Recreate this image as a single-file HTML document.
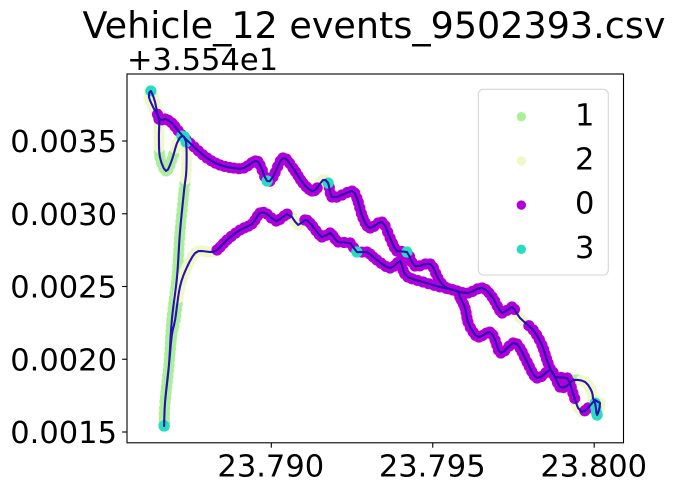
<!DOCTYPE html>
<html>
<head>
<meta charset="utf-8">
<style>
html,body{margin:0;padding:0;background:#fff;}
svg{display:block;font-family:"DejaVu Sans","Liberation Sans",sans-serif;}
text{fill:#000;}
</style>
</head>
<body>
<svg id="chart" width="677" height="492" viewBox="0 0 677 492" xmlns="http://www.w3.org/2000/svg">
<rect x="0" y="0" width="677" height="492" fill="#fff"/>
<text x="374" y="38" font-size="36.5" text-anchor="middle">Vehicle_12 events_9502393.csv</text>
<text x="127" y="70" font-size="30.5">+3.554e1</text>
<g id="scatter"></g>
<path id="track" fill="none" stroke="#2a10b0" stroke-width="2.1" stroke-linejoin="round" stroke-linecap="round"/>
<rect x="127" y="74" width="496.5" height="368.8" fill="none" stroke="#000" stroke-width="1.1"/>
<g id="axes"></g>
<g>
<rect x="478.3" y="89.3" width="130" height="185.7" rx="5" ry="5" fill="#fff" fill-opacity="0.8" stroke="#d6d6d6" stroke-width="1.1"/>
<g id="legend-items"></g>
</g>
</svg>
<script>
const categories = ["1", "2", "0", "3"];
const categoryColors = ["#aaf09b", "#eef8c8", "#b000d8", "#28dcc0"];
const xTicks = [23.79, 23.795, 23.8];
const xTickLabels = ["23.790", "23.795", "23.800"];
const yTicks = [0.0015, 0.002, 0.0025, 0.003, 0.0035];
const yTickLabels = ["0.0015", "0.0020", "0.0025", "0.0030", "0.0035"];

const lonValues = [
23.78668,23.78671,23.78683,23.78692,23.78708,23.78717,23.78730,23.78737,23.78736,23.78723,
23.78708,23.78692,23.78674,23.78655,23.78652,23.78652,23.78637,23.78621,23.78627,23.78640,
23.78652,23.78671,23.78692,23.78723,23.78761,23.78801,23.78841,23.78884,23.78915,23.78950,
23.78965,23.78987,23.79005,23.79036,23.79067,23.79098,23.79126,23.79142,23.79160,23.79176,
23.79188,23.79219,23.79250,23.79265,23.79284,23.79306,23.79343,23.79368,23.79389,23.79420,
23.79445,23.79492,23.79516,23.79538,23.79575,23.79609,23.79653,23.79684,23.79715,23.79745,
23.79770,23.79811,23.79838,23.79857,23.79879,23.79916,23.79934,23.79950,23.79962,23.79981,
23.80003,23.80018,23.80009,23.80003,23.79996,23.79993,23.79972,23.79934,23.79916,23.79894,
23.79879,23.79863,23.79823,23.79792,23.79770,23.79749,23.79711,23.79693,23.79677,23.79643,
23.79625,23.79609,23.79600,23.79584,23.79575,23.79522,23.79470,23.79423,23.79408,23.79399,
23.79368,23.79327,23.79296,23.79265,23.79244,23.79207,23.79182,23.79157,23.79120,23.79104,
23.79083,23.79064,23.79049,23.79015,23.78987,23.78965,23.78940,23.78903,23.78863,23.78832,
23.78810,23.78785,23.78764,23.78739,23.78717,23.78702,23.78692,23.78683,23.78671,23.78668
];
const latOffsets = [
0.001541,0.001706,0.001960,0.002270,0.002565,0.002868,0.003163,0.003301,0.003493,0.003534,
0.003486,0.003369,0.003294,0.003390,0.003528,0.003658,0.003720,0.003802,0.003844,0.003768,
0.003651,0.003651,0.003624,0.003541,0.003459,0.003383,0.003335,0.003314,0.003314,0.003363,
0.003335,0.003225,0.003253,0.003383,0.003314,0.003211,0.003156,0.003177,0.003232,0.003211,
0.003115,0.003129,0.003156,0.003108,0.002971,0.002902,0.002943,0.002833,0.002744,0.002737,
0.002641,0.002655,0.002558,0.002497,0.002469,0.002455,0.002490,0.002428,0.002318,0.002359,
0.002284,0.002201,0.002098,0.001974,0.001878,0.001871,0.001768,0.001665,0.001637,0.001665,
0.001720,0.001699,0.001617,0.001699,0.001734,0.001775,0.001844,0.001857,0.001816,0.001809,
0.001878,0.001926,0.001871,0.001981,0.002077,0.002112,0.002043,0.002132,0.002187,0.002153,
0.002187,0.002256,0.002352,0.002428,0.002469,0.002497,0.002531,0.002565,0.002613,0.002675,
0.002627,0.002682,0.002737,0.002737,0.002799,0.002806,0.002868,0.002840,0.002936,0.002957,
0.002923,0.002978,0.002998,0.002950,0.002998,0.003005,0.002930,0.002888,0.002820,0.002751,
0.002737,0.002744,0.002730,0.002634,0.002497,0.002270,0.002167,0.001960,0.001706,0.001541
];
const eventClasses = [
"3","1","1","1","1","1","1","2","3","3",
"2","1","1","1","2","2","2","2","3","2",
"0","0","0","0","0","0","0","0","0","0",
"0","3","0","0","0","0","0","0","2","3",
"0","0","0","0","0","0","0","0","0","3",
"0","0","0","0","0","0","0","0","0","0",
"2","0","0","0","0","0","0","2","2","0",
"2","2","3","3","2","2","2","1","0","0",
"0","0","0","0","0","0","0","0","0","0",
"0","0","0","0","0","0","0","0","0","0",
"0","0","0","3","0","0","0","0","0","0",
"2","2","0","0","0","0","0","0","0","0",
"2","2","2","2","2","1","1","1","1","3"
];

function xScale(v) { return 271.3 + (v - 23.79) * 32290; }
function yScale(v) { return 432 - (v - 0.0015) * 145500; }
const NS = "http://www.w3.org/2000/svg";
function make(tag, attrs, parent) {
  const el = document.createElementNS(NS, tag);
  for (const k in attrs) el.setAttribute(k, attrs[k]);
  parent.appendChild(el);
  return el;
}

const axesGroup = document.getElementById("axes");
xTicks.forEach(function (v, i) {
  const px = xScale(v);
  const tick = make("line", {x1: px, x2: px, y1: 442.8, y2: 447.7, stroke: "#000", "stroke-width": 1.1}, axesGroup);
  
  
  const label = make("text", {x: px - 0.5, y: 476.7, "font-size": 30.5, "text-anchor": "middle"}, axesGroup);
  label.textContent = xTickLabels[i];
  
  
});
yTicks.forEach(function (v, i) {
  const py = yScale(v);
  const tick = make("line", {x1: 122.1, x2: 127, y1: py, y2: py, stroke: "#000", "stroke-width": 1.1}, axesGroup);
  
  
  const label = make("text", {x: 117, y: py + 11, "font-size": 30.5, "text-anchor": "end"}, axesGroup);
  label.textContent = yTickLabels[i];
  
  
});

const pts = lonValues.map(function (v, i) { return [xScale(v), yScale(latOffsets[i])]; });
function catmull(a, b, c, d, t) {
  const t2 = t * t, t3 = t2 * t;
  return 0.5 * (2 * b + (c - a) * t + (2 * a - 5 * b + 4 * c - d) * t2 + (3 * b - a - 3 * c + d) * t3);
}
const samples = [];
for (let i = 0; i < pts.length - 1; i++) {
  const p0 = pts[Math.max(i - 1, 0)], p1 = pts[i], p2 = pts[i + 1], p3 = pts[Math.min(i + 2, pts.length - 1)];
  const len = Math.hypot(p2[0] - p1[0], p2[1] - p1[1]);
  const n = Math.max(1, Math.ceil(len / 6));
  for (let s = 0; s < n; s++) {
    const t = s / n;
    let cls = t < 0.5 ? eventClasses[i] : eventClasses[i + 1];
    if (cls === "3" && t !== 0) cls = t < 0.5 ? eventClasses[i + 1] : eventClasses[i];
    samples.push({x: catmull(p0[0], p1[0], p2[0], p3[0], t), y: catmull(p0[1], p1[1], p2[1], p3[1], t), cls: cls});
  }
}
const lastPoint = pts[pts.length - 1];
samples.push({x: lastPoint[0], y: lastPoint[1], cls: eventClasses[eventClasses.length - 1]});

const scatterGroup = document.getElementById("scatter");
categories.forEach(function (cat, ci) {
  samples.filter(function (s) { return s.cls === cat; }).forEach(function (s) {
    const dot = make("circle", {cx: s.x.toFixed(2), cy: s.y.toFixed(2), r: 5.6, fill: categoryColors[ci]}, scatterGroup);
    
    
  });
});

document.getElementById("track").setAttribute("d", samples.map(function (s, i) {
  return (i ? "L" : "M") + s.x.toFixed(2) + " " + s.y.toFixed(2);
}).join(""));

const legendGroup = document.getElementById("legend-items");
categories.forEach(function (cat, i) {
  const rowY = 116.7 + i * 44.2;
  const marker = make("circle", {cx: 521.3, cy: rowY, r: 4.7, fill: categoryColors[i]}, legendGroup);
  
  
  const text = make("text", {x: 575, y: rowY + 8.6, "font-size": 30.5}, legendGroup);
  text.textContent = cat;
  
  
});
</script>
</body>
</html>
